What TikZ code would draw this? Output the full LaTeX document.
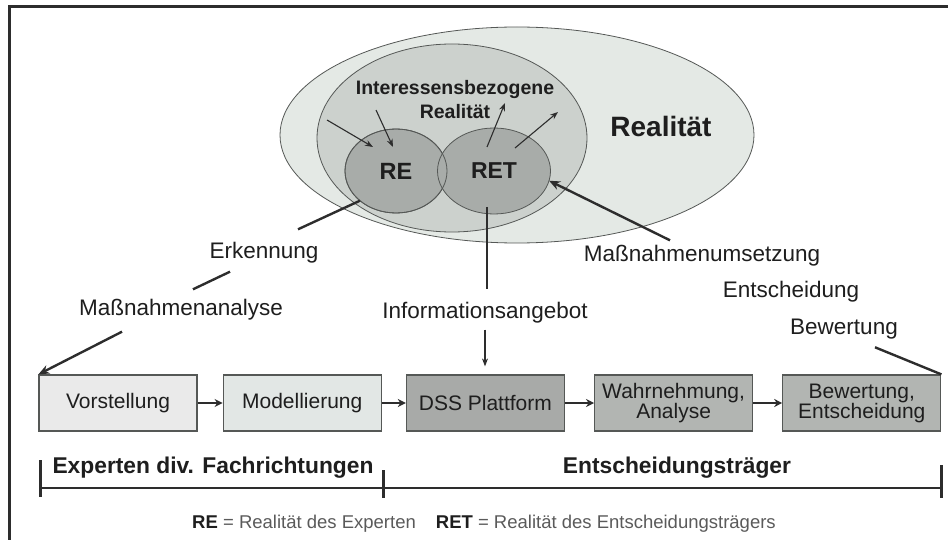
\documentclass[tikz,border=0pt]{standalone}
\usepackage{fontspec}
\setmainfont{Liberation Sans}
\usetikzlibrary{shapes.geometric, arrows.meta, positioning}
\definecolor{colReal}{RGB}{228,233,229}
\definecolor{colInt}{RGB}{204,209,205}
\definecolor{colRE}{RGB}{168,172,169}
\definecolor{colBoxA}{RGB}{234,234,234}
\definecolor{colBoxB}{RGB}{226,231,229}
\definecolor{colBoxC}{RGB}{168,170,168}
\definecolor{colBoxD}{RGB}{178,181,178}
\definecolor{colBorder}{RGB}{85,88,86}
\definecolor{colLine}{RGB}{45,45,45}
\definecolor{colText}{RGB}{30,30,30}
\definecolor{colSoft}{RGB}{90,90,90}
\tikzset{
  ell/.style={
    ellipse, draw=colBorder, line width=0.8pt,
    inner sep=0pt, outer sep=0pt, text=colText
  },
  box/.style={
    rectangle, draw=colBorder, line width=1.2pt,
    minimum width=158pt, minimum height=56pt, align=center,
    inner sep=2pt, text=colText, font=\fontsize{21}{21}\selectfont
  },
  lbl/.style={font=\fontsize{22.5}{26}\selectfont, text=colText, inner sep=3pt},
  grp/.style={font=\fontsize{22.8}{26}\selectfont\bfseries, text=colText, inner sep=3pt},
  lnk/.style={line width=2.4pt, draw=colLine},
  lnkarr/.style={lnk, -{Stealth[length=11pt, width=9pt]}},
  thinln/.style={line width=1.1pt, draw=colLine},
  thinarr/.style={thinln, -{Stealth[length=8pt, width=6pt]}},
  boxarr/.style={line width=2.6pt, draw=colLine, -{Stealth[length=8pt, width=8pt]}},
  frame/.style={line width=3pt, draw=colLine}
}

\begin{document}
\begin{tikzpicture}[x=1pt, y=-1pt, node distance=26pt]
  \useasboundingbox (0,0) rectangle (948,540);

  % frame
  \draw[frame] (960,7) -- (9,7) -- (9,550);

  % realities
  \node[ell, fill=colReal, minimum width=474pt, minimum height=216pt] (real) at (517,135) {};
  \node[ell, fill=colInt, minimum width=270pt, minimum height=188pt] (intr) at (452,138) {};
  \node[ell, fill=colRE, minimum width=102pt, minimum height=84pt,
        font=\fontsize{23.5}{24}\selectfont\bfseries] (re) at (396,171) {RE};
  \node[ell, fill=colRE, minimum width=113pt, minimum height=86pt,
        font=\fontsize{23}{24}\selectfont\bfseries] (ret) at (494,171) {RET};
  \node[ell, minimum width=102pt, minimum height=84pt] (reRim) at (re) {};

  \node[font=\fontsize{28}{30}\selectfont\bfseries, text=colText] (realTxt) at (661,126) {Realität};
  \node[font=\fontsize{19.5}{24}\selectfont\bfseries, text=colText, align=center] (intTxt) at (455,100)
    {Interessensbezogene\\Realität};

  % arrows inside the interest ellipse
  \coordinate (inA) at (327,120);
  \coordinate (inB) at (376,110);
  \coordinate (outA) at (505,103);
  \coordinate (outB) at (558,112);
  \draw[thinarr] (inA) -- ([shift={(-23,-24)}]re.center);
  \draw[thinarr] (inB) -- ([shift={(-3,-24)}]re.center);
  \draw[thinarr] ([shift={(-7,-24)}]ret.center) -- (outA);
  \draw[thinarr] ([shift={(21,-23)}]ret.center) -- (outB);

  % process boxes
  \node[box, fill=colBoxA] (vor) at (118,403) {Vorstellung};
  \node[box, fill=colBoxB, right=25pt of vor] (mod) {Modellierung};
  \node[box, fill=colBoxC, right=24pt of mod] (dss) {DSS Plattform};
  \node[box, fill=colBoxD, right=29pt of dss] (wahr) {Wahrnehmung,\\[-1pt]Analyse};
  \node[box, fill=colBoxD, right=29pt of wahr] (bew) {Bewertung,\\[-1pt]Entscheidung};

  \draw[boxarr] (vor) -- (mod);
  \draw[boxarr] (mod) -- (dss);
  \draw[boxarr] (dss) -- (wahr);
  \draw[boxarr] (wahr) -- (bew);

  % labels on the connectors
  \node[lbl] (erk) at (264,253) {Erkennung};
  \node[lbl] (mna) at (181,310) {Maßnahmenanalyse};
  \node[lbl] (info) at (485,313) {Informationsangebot};
  \node[lbl] (mnu) at (702,256) {Maßnahmenumsetzung};
  \node[lbl] (ents) at (791,292) {Entscheidung};
  \node[lbl] (bewl) at (844,329) {Bewertung};

  % expert path
  \draw[lnk] (re.south west) -- ([xshift=34pt, yshift=10pt]erk.north);
  \draw[lnk] ([xshift=-34pt, yshift=-5pt]erk.south) -- ([xshift=12pt, yshift=7pt]mna.north);
  \draw[lnkarr] ([xshift=-59pt, yshift=-8pt]mna.south) -- (vor.north west);

  % information path
  \draw[thinln] ([xshift=-7pt, yshift=7pt]ret.south) -- ([xshift=2pt, yshift=10pt]info.north);
  \draw[thinarr, shorten >=8pt] ([yshift=-3pt]info.south) -- (info.south |- dss.north);

  % decision path
  \draw[lnk] (bew.north east) -- ([xshift=31pt, yshift=-5pt]bewl.south);
  \draw[lnkarr] ([xshift=-32pt, yshift=2pt]mnu.north) -- (ret.-10);

  % groups
  \coordinate (brL) at (40,488);
  \coordinate (brM) at (383,488);
  \coordinate (brR) at (941,488);
  \draw[line width=2.2pt, draw=colLine] (brL) -- (brR);
  \draw[line width=3pt, draw=colLine] ([yshift=28pt]brL) -- ([yshift=-9pt]brL);
  \draw[line width=3pt, draw=colLine] ([yshift=18pt]brM) -- ([yshift=-10pt]brM);
  \draw[line width=3pt, draw=colLine] ([yshift=23pt]brR) -- ([yshift=-10pt]brR);
  \node[grp] (expL) at (213,468) {Experten div. Fachrichtungen};
  \node[grp] (entL) at (677,468) {Entscheidungsträger};

  % legend
  \node[font=\fontsize{18.5}{20}\selectfont, text=colSoft] (legend) at (484,524)
    {\textcolor{colText}{\textbf{RE}} = Realität des Experten\hspace{20pt}\textcolor{colText}{\textbf{RET}} = Realität des Entscheidungsträgers};

\end{tikzpicture}
\end{document}
